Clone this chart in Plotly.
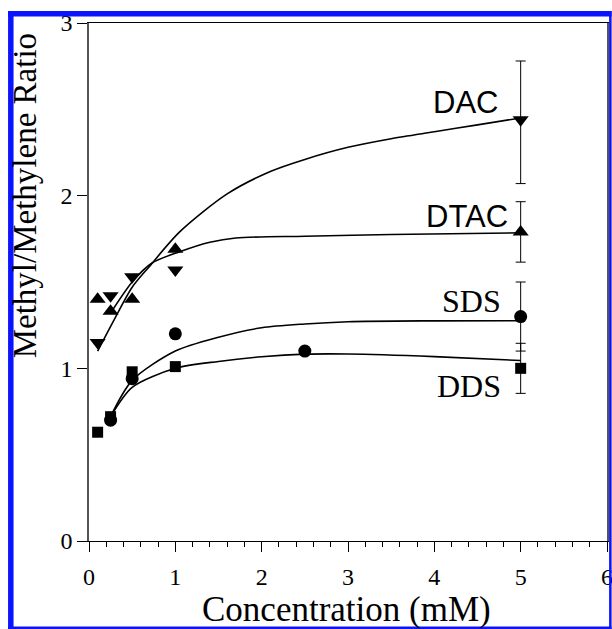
import plotly.graph_objects as go

# ---------------- data ----------------
dac_x = [0.1, 0.25, 0.5, 1.0, 5.0]
dac_y = [1.15, 1.42, 1.53, 1.57, 2.44]
dac_err_plus = 0.34
dac_err_minus = 0.37

dtac_x = [0.1, 0.25, 0.5, 1.0, 5.0]
dtac_y = [1.40, 1.33, 1.40, 1.69, 1.79]
dtac_err = 0.175

sds_x = [0.25, 0.5, 1.0, 2.5, 5.0]
sds_y = [0.70, 0.94, 1.20, 1.10, 1.30]
sds_err = 0.20

dds_x = [0.1, 0.25, 0.5, 1.0, 5.0]
dds_y = [0.63, 0.72, 0.98, 1.01, 1.00]
dds_err = 0.145

# fitted curves
dac_fit_x = [0.1, 0.3, 0.5, 0.7, 1.05, 1.6, 2.1, 2.5, 3.0, 3.5, 4.0, 4.5, 5.0]
dac_fit_y = [1.10, 1.29, 1.47, 1.59, 1.79, 2.01, 2.14, 2.21, 2.28, 2.33, 2.37, 2.41, 2.45]
dtac_fit_x = [0.25, 0.5, 0.73, 1.05, 1.4, 1.7, 2.5, 3.5, 5.0]
dtac_fit_y = [1.32, 1.50, 1.61, 1.675, 1.73, 1.755, 1.765, 1.775, 1.785]
sds_fit_x = [0.25, 0.5, 1.0, 1.5, 2.0, 2.5, 3.0, 4.0, 5.0]
sds_fit_y = [0.72, 0.93, 1.10, 1.18, 1.235, 1.257, 1.27, 1.275, 1.276]
dds_fit_x = [0.25, 0.5, 1.0, 1.5, 2.0, 2.5, 3.0, 4.0, 5.0]
dds_fit_y = [0.72, 0.89, 1.00, 1.04, 1.067, 1.082, 1.083, 1.068, 1.045]

labels = ["DAC", "DTAC", "SDS", "DDS"]
x_ticks = [0, 1, 2, 3, 4, 5, 6]
y_ticks = [0, 1, 2, 3]

SERIF = "Liberation Serif"
SANS = "Liberation Sans"

fig = go.Figure()

# curves
for fx, fy in [(dac_fit_x, dac_fit_y), (dtac_fit_x, dtac_fit_y),
               (sds_fit_x, sds_fit_y), (dds_fit_x, dds_fit_y)]:
    fig.add_trace(go.Scatter(x=fx, y=fy, mode="lines",
                             line=dict(color="black", width=1.6, shape="spline", smoothing=0.8),
                             hoverinfo="skip", showlegend=False))

# error bars (only on last point)
def err_trace(x, y, plus, minus):
    return go.Scatter(x=[x], y=[y], mode="markers", marker=dict(size=1, color="rgba(0,0,0,0)"),
                      error_y=dict(type="data", symmetric=False, array=[plus], arrayminus=[minus],
                                   color="black", thickness=1, width=5),
                      showlegend=False, hoverinfo="skip")

fig.add_trace(err_trace(dac_x[-1], dac_y[-1], dac_err_plus, dac_err_minus))
fig.add_trace(err_trace(dtac_x[-1], dtac_y[-1], dtac_err, dtac_err))
fig.add_trace(err_trace(sds_x[-1], sds_y[-1], sds_err, sds_err))
fig.add_trace(err_trace(dds_x[-1], dds_y[-1], dds_err, dds_err))

# markers
fig.add_trace(go.Scatter(x=dac_x, y=dac_y, mode="markers", name=labels[0],
                         marker=dict(symbol="triangle-down", size=14, color="black"), showlegend=False))
fig.add_trace(go.Scatter(x=dtac_x, y=dtac_y, mode="markers", name=labels[1],
                         marker=dict(symbol="triangle-up", size=14, color="black"), showlegend=False))
fig.add_trace(go.Scatter(x=sds_x, y=sds_y, mode="markers", name=labels[2],
                         marker=dict(symbol="circle", size=13, color="black"), showlegend=False))
fig.add_trace(go.Scatter(x=dds_x, y=dds_y, mode="markers", name=labels[3],
                         marker=dict(symbol="square", size=11, color="black"), showlegend=False))

# series labels
fig.add_annotation(x=4.76, y=2.54, text=labels[0], showarrow=False, xanchor="right", yanchor="middle",
                   font=dict(family=SANS, size=31, color="black"))
fig.add_annotation(x=4.88, y=1.88, text=labels[1], showarrow=False, xanchor="right", yanchor="middle",
                   font=dict(family=SANS, size=31, color="black"))
fig.add_annotation(x=4.79, y=1.39, text=labels[2], showarrow=False, xanchor="right", yanchor="middle",
                   font=dict(family=SERIF, size=32, color="black"))
fig.add_annotation(x=4.79, y=0.90, text=labels[3], showarrow=False, xanchor="right", yanchor="middle",
                   font=dict(family=SERIF, size=32, color="black"))

# axis titles
fig.add_annotation(x=-0.123, y=0.666, xref="paper", yref="paper", text="Methyl/Methylene Ratio",
                   textangle=-90, showarrow=False, xanchor="center", yanchor="middle",
                   font=dict(family=SERIF, size=33, color="black"))
fig.add_annotation(x=0.498, y=-0.133, xref="paper", yref="paper", text="Concentration (mM)",
                   showarrow=False, xanchor="center", yanchor="middle",
                   font=dict(family=SERIF, size=35, color="black"))

# blue frame
L, R, T, B = 89, 4.6, 23, 88
W = 612 - L - R
H = 629 - T - B
def px(xp):
    return (xp - L) / W
def py(yp):
    return (629 - B - yp) / H
blue = "#0a14ff"
for x0, y0, x1, y1 in [(8, 11, 13.5, 629), (8, 11, 612, 16.5), (609.5, 11, 612, 629), (8, 626.5, 612, 629)]:
    fig.add_shape(type="rect", xref="paper", yref="paper", x0=px(x0), x1=px(x1), y0=py(y1), y1=py(y0),
                  fillcolor=blue, line=dict(width=0), layer="above")

fig.update_xaxes(range=[0, 6], tickvals=x_ticks, ticktext=[str(v) for v in x_ticks],
                 ticks="outside", ticklen=10, tickwidth=1, tickcolor="black",
                 minor=dict(dtick=0.2, ticks="outside", ticklen=5, tickcolor="black", tickwidth=1),
                 showline=True, linecolor="black", linewidth=1, mirror=True, automargin=False,
                 showgrid=False, zeroline=False, ticklabeloverflow="allow", ticklabelstandoff=4,
                 tickfont=dict(family=SERIF, size=24, color="black"))
fig.update_yaxes(range=[0, 3], tickvals=y_ticks, ticktext=[str(v) for v in y_ticks],
                 ticks="outside", ticklen=10, tickwidth=1, tickcolor="black",
                 showline=True, linecolor="#555555", linewidth=1.5, mirror=True, automargin=False,
                 showgrid=False, zeroline=False, ticklabeloverflow="allow",
                 tickfont=dict(family=SERIF, size=24, color="black"))

fig.update_layout(width=612, height=629, margin=dict(l=L, r=R, t=T, b=B, autoexpand=False),
                  paper_bgcolor="white", plot_bgcolor="white", showlegend=False)

fig.write_html("out.html")
